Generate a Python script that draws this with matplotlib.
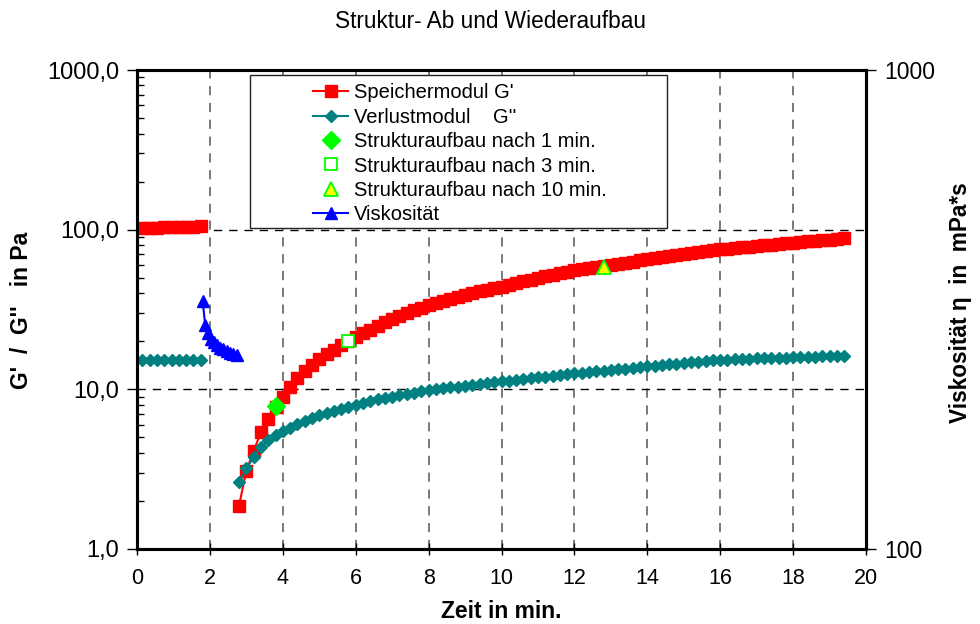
import matplotlib
matplotlib.use("Agg")
import matplotlib.pyplot as plt
from matplotlib.ticker import FixedLocator, FuncFormatter, NullLocator, LogLocator, NullFormatter
from matplotlib.patches import Rectangle
import numpy as np

plt.rcParams['font.family'] = ['Liberation Sans', 'DejaVu Sans']

# ---------------- data ----------------
# phase 1: before shearing
t_init = [0.15, 0.35, 0.55, 0.75, 0.95, 1.15, 1.35, 1.55, 1.75]
gp_init = [102.5, 102.8, 103.0, 103.3, 103.8, 104.2, 104.4, 104.6, 104.8]
gpp_init = [15.3, 15.3, 15.3, 15.3, 15.3, 15.3, 15.3, 15.3, 15.3]

# viscosity during shearing (right axis, mPa*s)
t_visc = [1.80, 1.87, 1.94, 2.02, 2.10, 2.19, 2.28, 2.37, 2.46, 2.55, 2.64, 2.73]
visc = [330, 294, 283, 275, 270, 266, 263, 261, 259, 257, 255, 254]

# phase 3: recovery
t_rec = [2.8, 3.0, 3.2, 3.4, 3.6, 3.8, 4.0, 4.2, 4.4, 4.6, 4.8, 5.0, 5.2, 5.4, 5.6, 5.8,
         6.0, 6.2, 6.4, 6.6, 6.8, 7.0, 7.2, 7.4, 7.6, 7.8, 8.0, 8.2, 8.4, 8.6, 8.8, 9.0,
         9.2, 9.4, 9.6, 9.8, 10.0, 10.2, 10.4, 10.6, 10.8, 11.0, 11.2, 11.4, 11.6, 11.8,
         12.0, 12.2, 12.4, 12.6, 12.8, 13.0, 13.2, 13.4, 13.6, 13.8, 14.0, 14.2, 14.4,
         14.6, 14.8, 15.0, 15.2, 15.4, 15.6, 15.8, 16.0, 16.2, 16.4, 16.6, 16.8, 17.0,
         17.2, 17.4, 17.6, 17.8, 18.0, 18.2, 18.4, 18.6, 18.8, 19.0, 19.2, 19.4]
gp_rec = [1.87, 3.1, 4.1, 5.4, 6.5, 7.8, 9.0, 10.4, 11.7, 13.0, 14.2, 15.4, 16.6, 17.7, 18.9, 20.0,
          21.2, 22.4, 23.6, 24.9, 26.3, 27.6, 28.8, 30.0, 31.2, 32.4, 33.6, 34.7, 35.8, 36.9, 38.0, 39.0,
          40.0, 41.0, 42.0, 43.0, 43.9, 45.1, 46.3, 47.5, 48.7, 49.9, 51.0, 52.2, 53.4, 54.6,
          55.8, 56.8, 57.5, 58.2, 58.9, 59.9, 61.0, 62.1, 63.1, 64.2, 65.2, 66.2, 67.2,
          68.2, 69.2, 70.2, 71.2, 72.2, 73.2, 74.3, 75.3, 76.1, 76.8, 77.6, 78.3, 79.1,
          79.8, 80.6, 81.3, 82.1, 82.8, 83.6, 84.4, 85.1, 85.9, 86.7, 87.4, 88.2]
gpp_rec = [2.62, 3.2, 3.75, 4.35, 4.8, 5.15, 5.45, 5.75, 6.05, 6.35, 6.65, 6.9, 7.1, 7.35, 7.55, 7.75,
           8.0, 8.25, 8.45, 8.65, 8.8, 9.0, 9.2, 9.35, 9.55, 9.7, 9.9, 10.0, 10.15, 10.3, 10.4, 10.55,
           10.7, 10.8, 10.95, 11.05, 11.2, 11.35, 11.5, 11.6, 11.75, 11.9, 12.0, 12.15, 12.3, 12.45,
           12.6, 12.7, 12.85, 12.95, 13.1, 13.2, 13.35, 13.45, 13.6, 13.75, 13.9, 14.05, 14.2,
           14.35, 14.5, 14.6, 14.75, 14.9, 15.05, 15.2, 15.3, 15.35, 15.4, 15.5, 15.55, 15.6,
           15.65, 15.7, 15.75, 15.8, 15.9, 15.95, 16.0, 16.05, 16.1, 16.15, 16.2, 16.25]

# structure recovery markers
t_1min, v_1min = [3.8], [7.9]
t_3min, v_3min = [5.8], [20.2]
t_10min, v_10min = [12.8], [58.0]

x_ticks = [0, 2, 4, 6, 8, 10, 12, 14, 16, 18, 20]
y_ticks = [1, 10, 100, 1000]
y2_ticks = [100, 1000]

labels = ["Speichermodul G'", "Verlustmodul    G''", "Strukturaufbau nach 1 min.",
          "Strukturaufbau nach 3 min.", "Strukturaufbau nach 10 min.", "Viskosität"]

# ---------------- figure ----------------
fig = plt.figure(figsize=(9.8, 6.24), dpi=100)
ax = fig.add_axes([137/980, 1-549/624, (866-137)/980, (549-70)/624])
ax2 = ax.twinx()

RED = '#FF0000'
TEAL = '#008080'
GREEN = '#00FF00'
BLUE = '#0000FF'

l1, = ax.plot(t_rec, gp_rec, color=RED, lw=1.5, marker='s', ms=8, mec=RED, mfc=RED, zorder=4)
ax.plot(t_init, gp_init, color=RED, lw=1.5, marker='s', ms=8, mec=RED, mfc=RED, zorder=4)
l2, = ax.plot(t_rec, gpp_rec, color=TEAL, lw=1.5, marker='D', ms=6, mec=TEAL, mfc=TEAL, zorder=4)
ax.plot(t_init, gpp_init, color=TEAL, lw=1.5, marker='D', ms=6, mec=TEAL, mfc=TEAL, zorder=4)
l3, = ax.plot(t_1min, v_1min, ls='none', marker='D', ms=9, mfc=GREEN, mec=GREEN, zorder=5)
l4, = ax.plot(t_3min, v_3min, ls='none', marker='s', ms=9, mfc='white', mec=GREEN, mew=1.3, zorder=5)
l5, = ax.plot(t_10min, v_10min, ls='none', marker='^', ms=10, mfc='#FFFF00', mec=GREEN, mew=1.3, zorder=5)
l6, = ax2.plot(t_visc, visc, color=BLUE, lw=1.5, marker='^', ms=8, mfc=BLUE, mec=BLUE, zorder=4)

ax.set_xlim(0, 20)
ax.set_yscale('log')
ax.set_ylim(1, 1000)
ax2.set_yscale('log')
ax2.set_ylim(100, 1000)

ax.xaxis.set_major_locator(FixedLocator(x_ticks))
ax.yaxis.set_major_locator(FixedLocator(y_ticks))
ax.yaxis.set_minor_locator(LogLocator(base=10, subs=(2, 3, 4, 5, 6, 7, 8, 9)))
ax.yaxis.set_minor_formatter(NullFormatter())
ax.yaxis.set_major_formatter(FuncFormatter(lambda v, p: f"{v:.1f}".replace('.', ',')))
ax2.yaxis.set_major_locator(FixedLocator(y2_ticks))
ax2.yaxis.set_minor_locator(NullLocator())
ax2.yaxis.set_major_formatter(FuncFormatter(lambda v, p: f"{int(v)}"))

ax.tick_params(axis='x', which='major', direction='inout', length=8, width=1, labelsize=15.5, pad=10)
ax.tick_params(axis='y', which='major', direction='out', length=7, width=1, labelsize=17, pad=6)
ax.tick_params(axis='y', which='minor', direction='in', length=5, width=1)
ax2.tick_params(axis='y', which='major', direction='out', length=7, width=1, labelsize=16.5, pad=6)

for a in (ax, ax2):
    for s in a.spines.values():
        s.set_linewidth(2.2)
        s.set_color('black')

ax.grid(True, which='major', axis='x', color='#555555', lw=1.1, linestyle=(0, (6, 5)))
ax.grid(True, which='major', axis='y', color='black', lw=1.0, linestyle=(0, (6, 5)))
ax.set_axisbelow(True)

# legend box
rect = Rectangle((0.155, 0.670), 0.572, 0.3196, transform=ax2.transAxes,
                 facecolor='white', edgecolor='#222222', lw=1.0, zorder=6)
ax2.add_patch(rect)
leg = ax2.legend([l1, l2, l3, l4, l5, l6], labels, loc='upper left',
                 bbox_to_anchor=(0.2414, 0.9724), bbox_transform=ax2.transAxes,
                 frameon=False, fontsize=14.5, handlelength=1.75, handletextpad=0.3,
                 labelspacing=0.27, borderpad=0, borderaxespad=0)
leg.set_zorder(7)

fig.text(0.5, 1-22/624, "Struktur- Ab und Wiederaufbau", ha='center', va='center', fontsize=16.3)
fig.text(501/980, 12/624, "Zeit in min.", ha='center', va='center', fontsize=16.5, fontweight='bold')
fig.text(22/980, 1-310/624, "G'  /  G''   in Pa", ha='center', va='center', rotation=90,
         fontsize=16.5, fontweight='bold')
fig.text(960/980, 1-303/624, "Viskosität η  in  mPa*s", ha='center', va='center', rotation=90,
         fontsize=16.3, fontweight='bold')

fig.savefig("out.png", dpi=100)
